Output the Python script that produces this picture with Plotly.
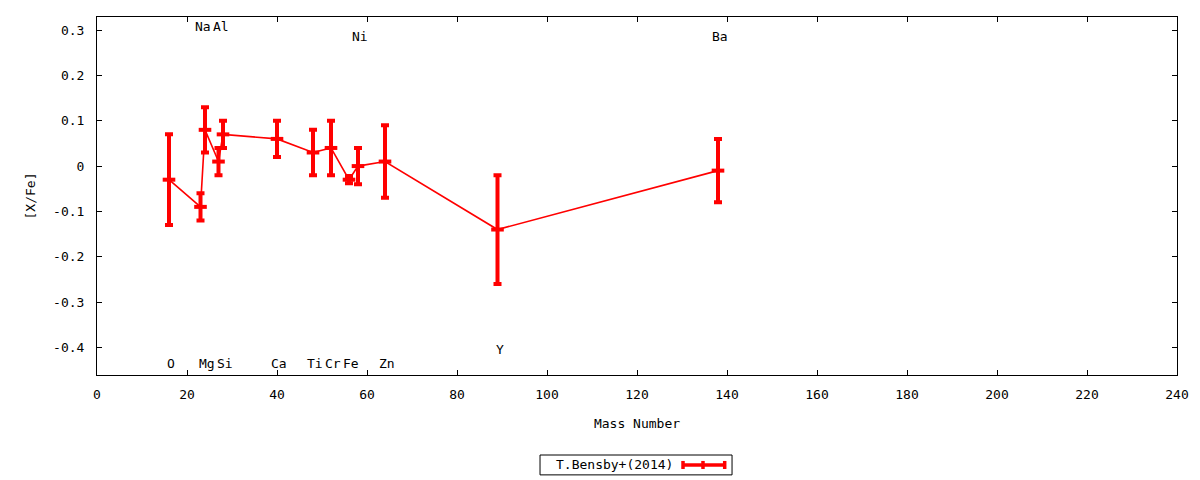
import plotly.graph_objects as go

elements = ["O", "Na", "Mg", "Al", "Si", "Ca", "Ti", "Cr", "Fe", "Ni", "Zn", "Y", "Ba"]
mass = [16, 23, 24, 27, 28, 40, 48, 52, 56, 58, 64, 89, 138]
xfe = [-0.03, -0.09, 0.08, 0.01, 0.07, 0.06, 0.03, 0.04, -0.03, 0.00, 0.01, -0.14, -0.01]
err = [0.10, 0.03, 0.05, 0.03, 0.03, 0.04, 0.05, 0.06, 0.008, 0.04, 0.08, 0.12, 0.07]
label_y = [-0.435, 0.307, -0.435, 0.307, -0.435, -0.435, -0.435, -0.435, -0.435, 0.285, -0.435, -0.404, 0.285]

xticks = [0, 20, 40, 60, 80, 100, 120, 140, 160, 180, 200, 220, 240]
yticks = [-0.4, -0.3, -0.2, -0.1, 0, 0.1, 0.2, 0.3]
yticktext = ["-0.4", "-0.3", "-0.2", "-0.1", "0", "0.1", "0.2", "0.3"]

FONT = "DejaVu Sans Mono"
RED = "#ff0000"

fig = go.Figure()
fig.add_trace(go.Scatter(
    x=mass, y=xfe, mode="lines+markers",
    line=dict(color=RED, width=1.6),
    marker=dict(symbol="line-ew", size=9, color=RED, line=dict(color=RED, width=4)),
    error_y=dict(type="data", array=err, visible=True, color=RED, thickness=4, width=4),
    showlegend=False, hoverinfo="x+y",
))

for el, m, ly in zip(elements, mass, label_y):
    fig.add_annotation(x=m, y=ly, text=el, showarrow=False, xshift=2,
                       font=dict(family=FONT, size=13, color="black"),
                       xanchor="center", yanchor="middle")

# legend box (bottom centre, sample drawn to the right of the text)
fig.add_shape(type="rect", xref="paper", yref="paper",
              x0=0.4102, x1=0.588, y0=-0.2235, y1=-0.279,
              line=dict(color="black", width=1), fillcolor="white")
fig.add_annotation(xref="paper", yref="paper", x=0.5352, y=-0.2513,
                   text="T.Bensby+(2014)", showarrow=False, xanchor="right", yanchor="middle",
                   font=dict(family=FONT, size=13, color="black"))
ly0 = -0.2513
fig.add_shape(type="line", xref="paper", yref="paper", x0=0.5417, x1=0.5821, y0=ly0, y1=ly0,
              line=dict(color=RED, width=3.5))
for xc in [0.5426, 0.5611, 0.5812]:
    fig.add_shape(type="line", xref="paper", yref="paper", x0=xc, x1=xc,
                  y0=ly0 - 0.0112, y1=ly0 + 0.0112, line=dict(color=RED, width=3.5))

axis_common = dict(
    showline=True, linecolor="black", linewidth=1, mirror="allticks",
    ticks="inside", ticklen=5, tickwidth=1, tickcolor="black",
    showgrid=False, zeroline=False,
    tickfont=dict(family=FONT, size=13, color="black"),
)

fig.update_layout(
    width=1200, height=480,
    margin=dict(l=89, r=31, t=9, b=113, autoexpand=False),
    paper_bgcolor="white", plot_bgcolor="white",
    font=dict(family=FONT, size=13, color="black"),
    xaxis=dict(range=[0, 240], tickvals=xticks, ticktext=[str(t) for t in xticks],
               ticklabelstandoff=7,
               title=dict(text="Mass Number", font=dict(family=FONT, size=13), standoff=18),
               **axis_common),
    yaxis=dict(range=[-0.461, 0.329], tickvals=yticks, ticktext=yticktext,
               ticklabelstandoff=9,
               title=dict(text="[X/Fe]", font=dict(family=FONT, size=13), standoff=14),
               **axis_common),
)

fig.write_html("out.html")
